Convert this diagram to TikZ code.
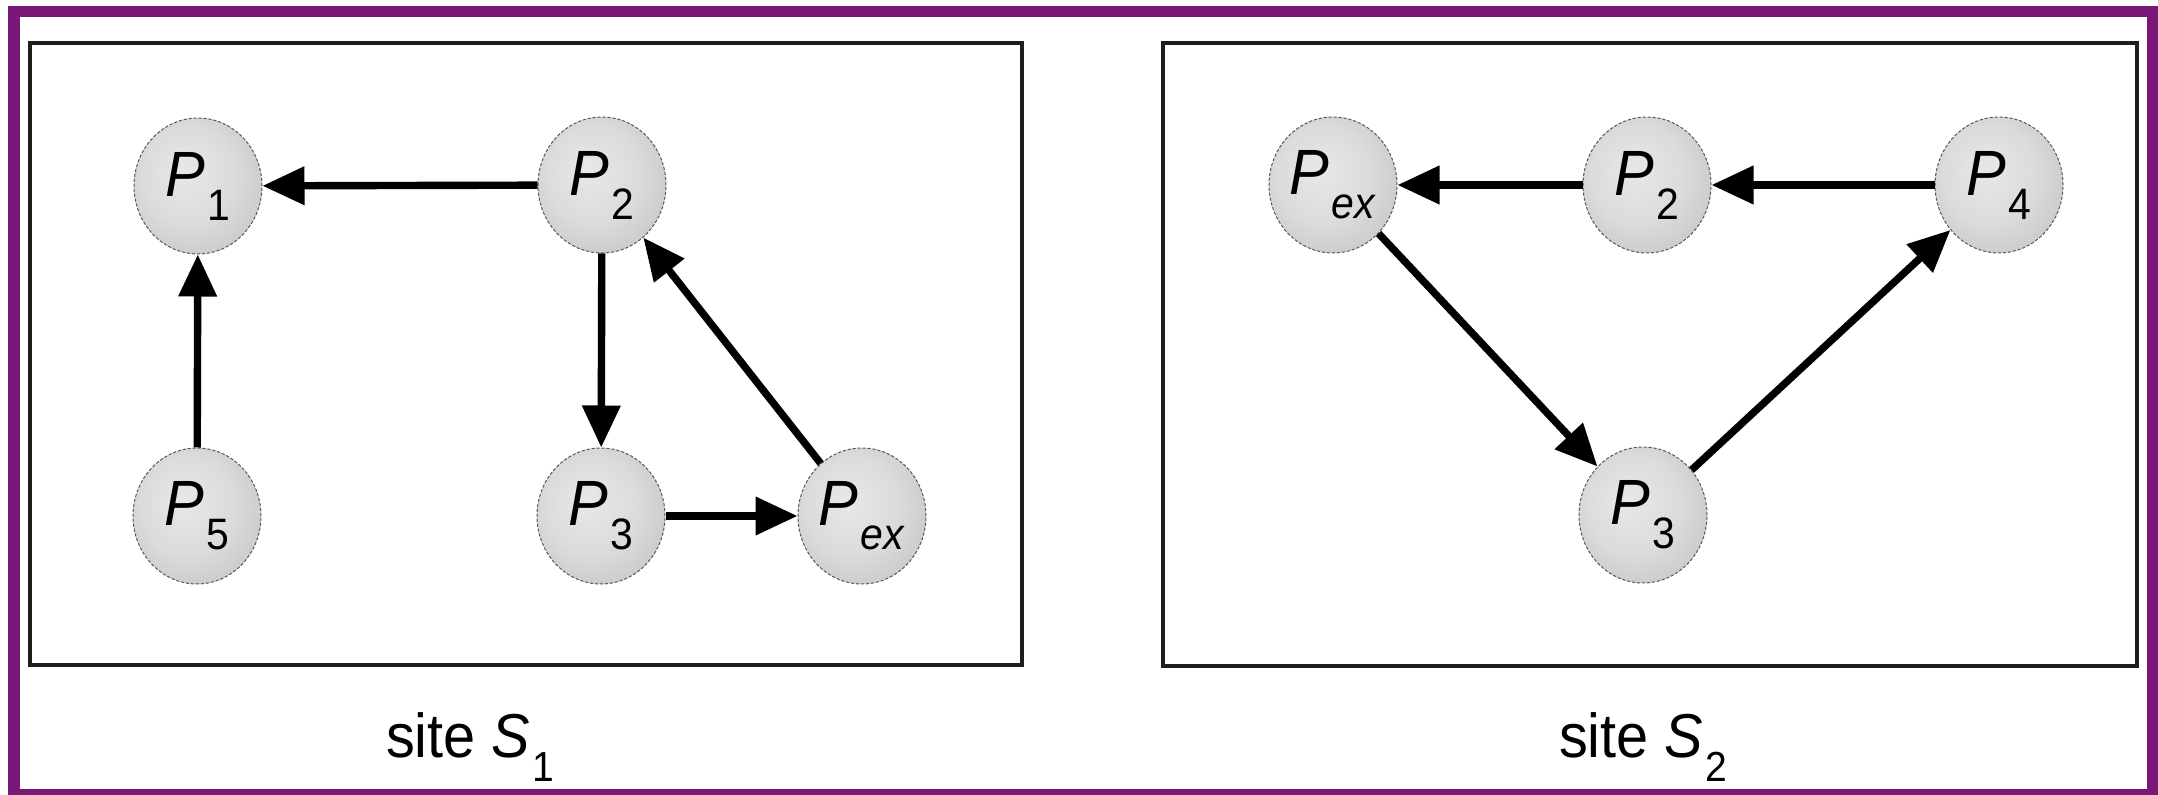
\documentclass[tikz,border=0pt]{standalone}
\usepackage{fontspec}
\setmainfont{Liberation Sans}[FakeStretch=0.93]
\usetikzlibrary{arrows.meta,shapes.geometric}
\definecolor{framepurple}{RGB}{122,24,120}
\definecolor{boxline}{RGB}{30,30,30}
\pgfdeclareradialshading{ballshade}{\pgfpoint{-6bp}{6bp}}{color(0bp)=(black!9); color(18bp)=(black!14); color(50bp)=(black!32)}
\newcommand\pn[1]{\textit{P}\kern1pt\raisebox{-12pt}{\fontsize{22}{24}\selectfont #1}}
\newcommand\sitelab[1]{site \textit{S}\kern1pt\raisebox{-12pt}{\fontsize{21}{24}\selectfont #1}}
\begin{document}
\begin{tikzpicture}[x=0.5pt,y=-0.5pt,
  proc/.style={ellipse, minimum width=64pt, minimum height=68pt, inner sep=0pt,
    draw=black!65, line width=0.5pt, dash pattern=on 1.6pt off 0.9pt,
    shade, shading=ballshade, font=\fontsize{32}{38}\selectfont},
  link/.style={line width=3.7pt, -{Triangle[length=21pt,width=18.5pt]}},
  sitebox/.style={draw=boxline, line width=2pt},
  sitetext/.style={anchor=base, inner sep=0pt, font=\fontsize{31}{36}\selectfont}]
\useasboundingbox (0,0) rectangle (2158,795);
% purple frame
\fill[framepurple] (8,6) rectangle (20,795);
\fill[framepurple] (8,6) rectangle (2158,17);
\fill[framepurple] (8,789) rectangle (2158,795);
\fill[framepurple] (2147,6) rectangle (2158,795);
% site boxes
\draw[sitebox] (30,43) rectangle (1022,665);
\draw[sitebox] (1163,43) rectangle (2137,666);
% site S1
\node[proc] (a1) at (198,186) {\pn{1}};
\node[proc] (a2) at (602,185) {\pn{2}};
\node[proc] (a5) at (197,516) {\pn{5}};
\node[proc] (a3) at (601,516) {\pn{3}};
\node[proc] (ax) at (862,516) {\pn{\textit{ex}}};
\draw[link] (a2) -- (a1);
\draw[link] (a5) -- (a1);
\draw[link] (a2) -- (a3);
\draw[link] (a3) -- (ax);
\draw[link] (ax) -- (a2);
% site S2
\node[proc] (bx) at (1333,185) {\pn{\textit{ex}}};
\node[proc] (b2) at (1647,185) {\pn{2}};
\node[proc] (b4) at (1999,185) {\pn{4}};
\node[proc] (b3) at (1643,515) {\pn{3}};
\draw[link] (b2) -- (bx);
\draw[link] (b4) -- (b2);
\draw[link] (bx) -- (b3);
\draw[link] (b3) -- (b4);
% labels
\node[sitetext] (l1) at (470,758) {\sitelab{1}};
\node[sitetext] (l2) at (1643,758) {\sitelab{2}};
\end{tikzpicture}
\end{document}
